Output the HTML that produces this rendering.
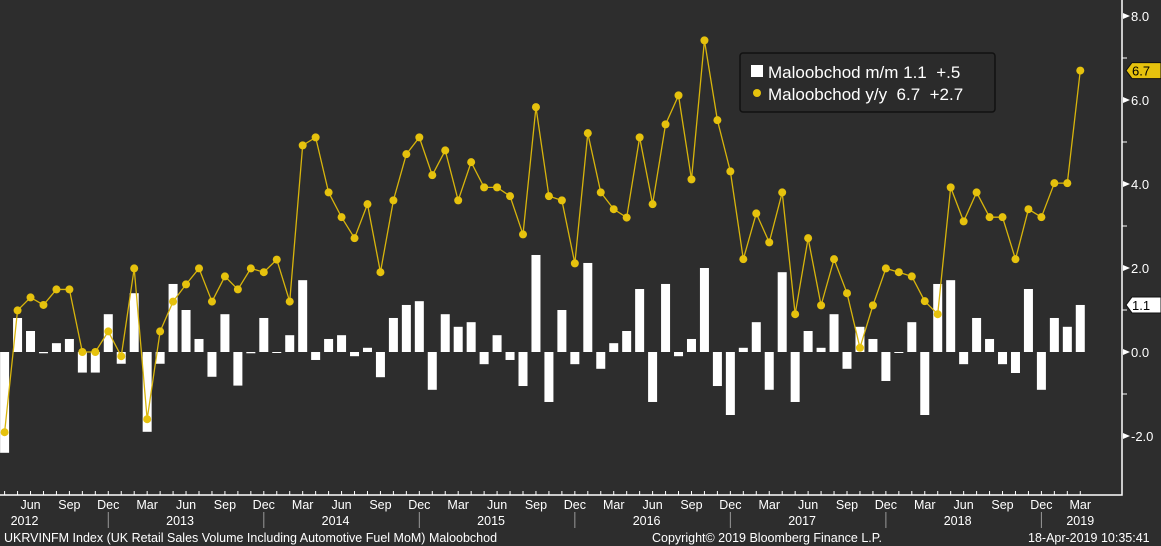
<!DOCTYPE html>
<html><head><meta charset="utf-8"><style>
html,body{margin:0;padding:0;background:#2d2d2d;}
svg{display:block;font-family:"Liberation Sans",sans-serif;}
</style></head><body>
<svg id="chart" width="1161" height="546" viewBox="0 0 1161 546" xmlns="http://www.w3.org/2000/svg">
<rect x="0" y="0" width="1161" height="546" fill="#2d2d2d"/>
<g id="bars"></g>
<g id="line"></g>
<g id="axes"></g>
<g>
<rect x="740" y="53" width="255" height="59" rx="3" fill="#2b2b2b" stroke="#111" stroke-width="1.5"/>
<rect x="751" y="65" width="12" height="12" fill="#fff"/>
<text x="768" y="78" fill="#fff" font-size="17" xml:space="preserve">Maloobchod m/m 1.1  +.5</text>
<circle cx="757" cy="93" r="4" fill="#e6c20d"/>
<text x="768" y="100" fill="#fff" font-size="17" xml:space="preserve">Maloobchod y/y  6.7  +2.7</text>
</g>
<text x="4" y="542" fill="#fff" font-size="12.5">UKRVINFM Index (UK Retail Sales Volume Including Automotive Fuel MoM) Maloobchod</text>
<text x="652" y="542" fill="#fff" font-size="12.5">Copyright© 2019 Bloomberg Finance L.P.</text>
<text x="1028" y="542" fill="#fff" font-size="12.5">18-Apr-2019 10:35:41</text>
</svg>
<script>
const momValues=[-2.4,0.81,0.5,-0.03,0.21,0.31,-0.49,-0.49,0.9,-0.28,1.4,-1.9,-0.28,1.62,1.0,0.31,-0.59,0.9,-0.8,-0.03,0.81,-0.02,0.4,1.71,-0.19,0.31,0.4,-0.1,0.1,-0.6,0.81,1.12,1.21,-0.9,0.9,0.6,0.71,-0.29,0.4,-0.19,-0.81,2.31,-1.19,1.0,-0.29,2.12,-0.4,0.21,0.5,1.5,-1.19,1.62,-0.1,0.31,2.0,-0.81,-1.5,0.1,0.71,-0.9,1.9,-1.19,0.5,0.1,0.9,-0.4,0.6,0.31,-0.69,-0.02,0.71,-1.5,1.62,1.71,-0.29,0.81,0.31,-0.29,-0.5,1.5,-0.9,0.81,0.6,1.12];
const yoyValues=[-1.91,0.99,1.3,1.12,1.49,1.49,0.0,0.0,0.49,-0.1,1.99,-1.6,0.49,1.2,1.61,1.99,1.2,1.8,1.49,1.99,1.9,2.2,1.2,4.92,5.11,3.8,3.21,2.71,3.52,1.9,3.61,4.71,5.11,4.21,4.8,3.61,4.52,3.92,3.92,3.71,2.8,5.83,3.71,3.61,2.11,5.21,3.8,3.4,3.2,5.11,3.52,5.42,6.11,4.11,7.42,5.52,4.3,2.21,3.3,2.61,3.8,0.9,2.71,1.11,2.21,1.4,0.1,1.11,1.99,1.9,1.8,1.21,0.9,3.92,3.11,3.8,3.21,3.21,2.21,3.4,3.21,4.02,4.02,6.7];
const startYear=2012, startMonth=3; // April 2012 (0-based month)
const yTicks=[8,6,4,2,0,-2];
const yTickLabels=["8.0","6.0","4.0","2.0","0.0","-2.0"];
const monthNames=["Jan","Feb","Mar","Apr","May","Jun","Jul","Aug","Sep","Oct","Nov","Dec"];
const lastMom="1.1", lastYoy="6.7";

const NS="http://www.w3.org/2000/svg";
const x=i=>4.6+12.96*i;
const y=v=>352-42*v;
function mk(tag,attrs,parent){const e=document.createElementNS(NS,tag);for(const k in attrs)e.setAttribute(k,attrs[k]);parent.appendChild(e);return e;}
const bars=document.getElementById('bars'),line=document.getElementById('line'),axes=document.getElementById('axes');

momValues.forEach((v,i)=>{
  const top=Math.min(y(v),y(0)),h=Math.max(Math.abs(y(v)-y(0)),1);
  const r=mk('rect',{x:x(i)-4.5,y:top,width:9,height:h,fill:'#fff'},bars);
  
  
});
const pl=mk('polyline',{points:yoyValues.map((v,i)=>x(i)+','+y(v)).join(' '),fill:'none',stroke:'#d8b50c','stroke-width':1.3},line);


yoyValues.forEach((v,i)=>{
  const c=mk('circle',{cx:x(i),cy:y(v),r:4,fill:'#e6c20d'},line);
  
  
});

// axes lines
const ax=mk('path',{d:'M1122,0 V495 H0',fill:'none',stroke:'#fff','stroke-width':1.5},axes);


yTicks.forEach((t,k)=>{
  const yy=y(t);
  const tri=mk('path',{d:`M1123,${yy-3} L1130,${yy} L1123,${yy+3}Z`,fill:'#fff'},axes);
  
  
  const tx=mk('text',{x:1131,y:yy+5,fill:'#fff','font-size':13},axes);
  tx.textContent=yTickLabels[k];
  
  
  if(t>-2){const m=mk('line',{x1:1122,x2:1127,y1:y(t-1),y2:y(t-1),stroke:'#fff'},axes);
  
  }
});
// value tags
function tag(val,v,fill,name){
  const yy=y(v);
  const p=mk('path',{d:`M1126,${yy} L1132,${yy-8} H1161 V${yy+8} H1132 Z`,fill:fill,stroke:'#111'},axes);
  
  
  const t=mk('text',{x:1132,y:yy+5,fill:'#000','font-size':13},axes);
  t.textContent=val;
  
  
}
tag(lastYoy,yoyValues[yoyValues.length-1],'#e6c20d','last-yoy-tag');
tag(lastMom,momValues[momValues.length-1],'#fff','last-mom-tag');

// x ticks and labels
for(let i=0;i<momValues.length;i++){
  const m=(startMonth+i)%12, yr=startYear+Math.floor((startMonth+i)/12);
  const tk=mk('line',{x1:x(i),x2:x(i),y1:495,y2:491,stroke:'#fff'},axes);
  
  
  if(m%3===2){
    const t=mk('text',{x:x(i),y:509,fill:'#fff','font-size':12.5,'text-anchor':'middle'},axes);
    t.textContent=monthNames[m];
    
    
  }
  if(m===5){
    const t=mk('text',{x:x(i)-6,y:525,fill:'#fff','font-size':12.5,'text-anchor':'middle'},axes);
    t.textContent=yr;
    
    
  }
  if(m===11){
    const s=mk('line',{x1:x(i),x2:x(i),y1:512,y2:528,stroke:'#999'},axes);
    
    
  }
}
const last=momValues.length-1;
const ly=mk('text',{x:x(last),y:525,fill:'#fff','font-size':12.5,'text-anchor':'middle'},axes);
ly.textContent=startYear+Math.floor((startMonth+last)/12);


</script>
</body></html>
